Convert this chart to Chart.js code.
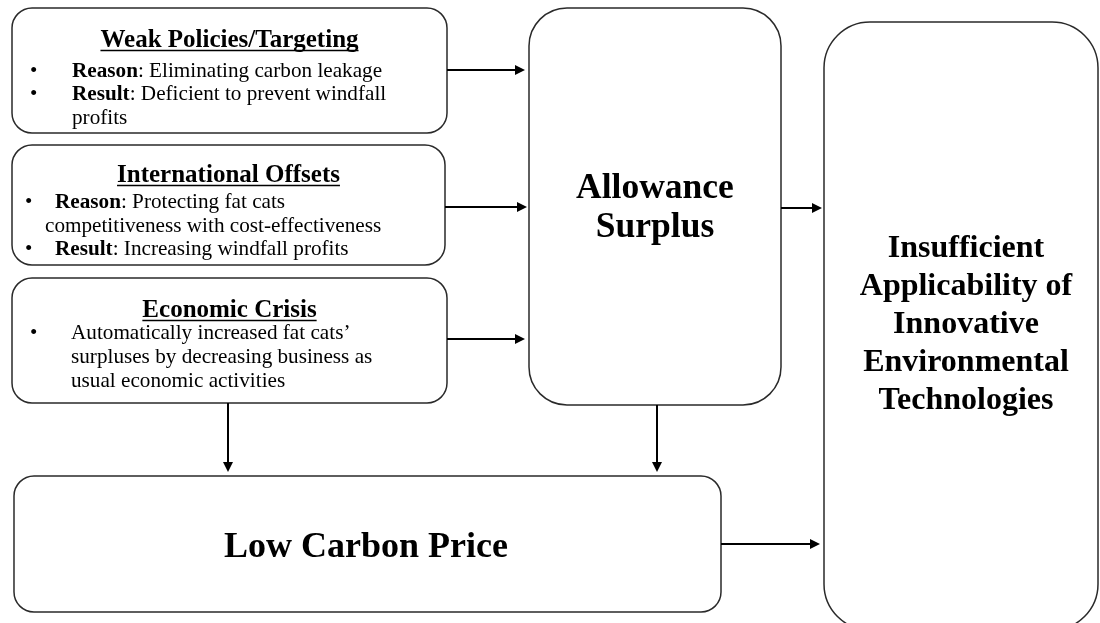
<!DOCTYPE html>
<html><head><meta charset="utf-8">
<script src="https://cdn.jsdelivr.net/npm/chart.js@4.4.1/dist/chart.umd.min.js"></script>
<style>html,body{margin:0;padding:0;background:#fff}#wrap{width:1100px;height:623px;position:relative}</style>
</head><body><div id="wrap"><canvas id="c"></canvas></div>
<script>
// ---- content (text) ----
const nodeIds = ['weak', 'offsets', 'crisis', 'surplus', 'price', 'outcome'];
const nodeTitles = ['Weak Policies/Targeting', 'International Offsets', 'Economic Crisis'];
const weakBullets = [
  { bold: 'Reason', lines: [': Eliminating carbon leakage'] },
  { bold: 'Result', lines: [': Deficient to prevent windfall', 'profits'] }
];
const offsetBullets = [
  { bold: 'Reason', lines: [': Protecting fat cats', 'competitiveness with cost-effectiveness'] },
  { bold: 'Result', lines: [': Increasing windfall profits'] }
];
const crisisBullets = [
  { bold: '', lines: ['Automatically increased fat cats\u2019', 'surpluses by decreasing business as', 'usual economic activities'] }
];
const surplusLabel = ['Allowance', 'Surplus'];
const priceLabel = ['Low Carbon Price'];
const outcomeLabel = ['Insufficient', 'Applicability of', 'Innovative', 'Environmental', 'Technologies'];
const links = [
  ['weak', 'surplus'], ['offsets', 'surplus'], ['crisis', 'surplus'],
  ['crisis', 'price'], ['surplus', 'price'],
  ['surplus', 'outcome'], ['price', 'outcome']
];

// ---- layout (diagram coordinates on a 1100 x 623 grid) ----
const layout = {
  boxes: {
    weak:    { x0: 12,  y0: 8,   x1: 447,  y1: 133, r: 20 },
    offsets: { x0: 12,  y0: 145, x1: 445,  y1: 265, r: 20 },
    crisis:  { x0: 12,  y0: 278, x1: 447,  y1: 403, r: 20 },
    surplus: { x0: 529, y0: 8,   x1: 781,  y1: 405, r: 38 },
    price:   { x0: 14,  y0: 476, x1: 721,  y1: 612, r: 20 },
    outcome: { x0: 824, y0: 22,  x1: 1098, y1: 630, r: 46 }
  },
  arrows: {
    'weak>surplus':    [447, 70, 525, 70],
    'offsets>surplus': [445, 207, 527, 207],
    'crisis>surplus':  [447, 339, 525, 339],
    'crisis>price':    [228, 403, 228, 472],
    'surplus>price':   [657, 405, 657, 472],
    'surplus>outcome': [781, 208, 822, 208],
    'price>outcome':   [721, 544, 820, 544]
  },
  textBoxes: {
    weak:    { titleY: 47,  firstY: 77,  pitch: 23.3, bulletX: 30, textX: 72, contX: 72 },
    offsets: { titleY: 182, firstY: 208, pitch: 23.5, bulletX: 25, textX: 55, contX: 45 },
    crisis:  { titleY: 317, firstY: 339, pitch: 24,   bulletX: 30, textX: 71, contX: 71 }
  },
  big: {
    surplus: { cx: 655, firstY: 198, pitch: 39, size: 35.5 },
    price:   { cx: 366, firstY: 557, pitch: 40, size: 36 },
    outcome: { cx: 966, firstY: 257, pitch: 38, size: 32 }
  }
};

const FONT = '"Liberation Serif", "Times New Roman", serif';
const bulletSets = { weak: weakBullets, offsets: offsetBullets, crisis: crisisBullets };
const bigSets = { surplus: surplusLabel, price: priceLabel, outcome: outcomeLabel };

const diagramPlugin = {
  id: 'diagram',
  afterDraw(chart) {
    const ctx = chart.ctx;
    const sx = v => chart.scales.x.getPixelForValue(v);
    const sy = v => chart.scales.y.getPixelForValue(v);
    ctx.save();
    // boxes
    nodeIds.forEach(id => {
      const b = layout.boxes[id];
      const x0 = sx(b.x0), y0 = sy(b.y0), x1 = sx(b.x1), y1 = sy(b.y1);
      ctx.beginPath();
      ctx.roundRect(x0, y0, x1 - x0, y1 - y0, b.r);
      ctx.lineWidth = 1.5;
      ctx.strokeStyle = '#2a2a2a';
      ctx.stroke();
    });
    // arrows
    links.forEach(([a, b]) => {
      const p = layout.arrows[a + '>' + b];
      const x0 = sx(p[0]), y0 = sy(p[1]), x1 = sx(p[2]), y1 = sy(p[3]);
      const ang = Math.atan2(y1 - y0, x1 - x0);
      const L = 10, W = 5;
      const bx = x1 - L * Math.cos(ang), by = y1 - L * Math.sin(ang);
      ctx.beginPath();
      ctx.moveTo(x0, y0); ctx.lineTo(bx, by);
      ctx.lineWidth = 2; ctx.strokeStyle = '#000';
      ctx.stroke();
      ctx.beginPath();
      ctx.moveTo(x1, y1);
      ctx.lineTo(bx - W * Math.sin(ang), by + W * Math.cos(ang));
      ctx.lineTo(bx + W * Math.sin(ang), by - W * Math.cos(ang));
      ctx.closePath();
      ctx.fillStyle = '#000';
      ctx.fill();
    });
    // bullet boxes
    ctx.fillStyle = '#000';
    ctx.textBaseline = 'alphabetic';
    ['weak', 'offsets', 'crisis'].forEach((id, i) => {
      const b = layout.boxes[id], t = layout.textBoxes[id];
      const cx = sx((b.x0 + b.x1) / 2);
      ctx.font = 'bold 25px ' + FONT;
      ctx.textAlign = 'center';
      const title = nodeTitles[i];
      ctx.fillText(title, cx, sy(t.titleY));
      const w = ctx.measureText(title).width;
      ctx.beginPath();
      ctx.moveTo(cx - w / 2, sy(t.titleY) + 3.5);
      ctx.lineTo(cx + w / 2, sy(t.titleY) + 3.5);
      ctx.lineWidth = 1.6; ctx.strokeStyle = '#000';
      ctx.stroke();
      ctx.textAlign = 'left';
      let row = 0;
      bulletSets[id].forEach(bl => {
        bl.lines.forEach((ln, k) => {
          const y = sy(t.firstY + row * t.pitch);
          if (k === 0) {
            ctx.font = '21px ' + FONT;
            ctx.fillText('\u2022', sx(t.bulletX), y);
            let x = sx(t.textX);
            if (bl.bold) {
              ctx.font = 'bold 21.2px ' + FONT;
              ctx.fillText(bl.bold, x, y);
              x += ctx.measureText(bl.bold).width;
            }
            ctx.font = '21.2px ' + FONT;
            ctx.fillText(ln, x, y);
          } else {
            ctx.font = '21.2px ' + FONT;
            ctx.fillText(ln, sx(t.contX), y);
          }
          row++;
        });
      });
    });
    // big labels
    ctx.textAlign = 'center';
    Object.keys(bigSets).forEach(id => {
      const g = layout.big[id];
      ctx.font = 'bold ' + g.size + 'px ' + FONT;
      bigSets[id].forEach((ln, k) => {
        ctx.fillText(ln, sx(g.cx), sy(g.firstY + k * g.pitch));
      });
    });
    ctx.restore();
  }
};

new Chart(document.getElementById('c'), {
  type: 'scatter',
  data: { datasets: [{ data: [], pointRadius: 0 }] },
  options: {
    responsive: true,
    maintainAspectRatio: false,
    animation: false,
    layout: { padding: 0 },
    plugins: { legend: { display: false }, tooltip: { enabled: false } },
    scales: {
      x: { type: 'linear', min: 0, max: 1100, display: false },
      y: { type: 'linear', min: 0, max: 623, reverse: true, display: false }
    }
  },
  plugins: [diagramPlugin]
});
</script>
</body></html>
